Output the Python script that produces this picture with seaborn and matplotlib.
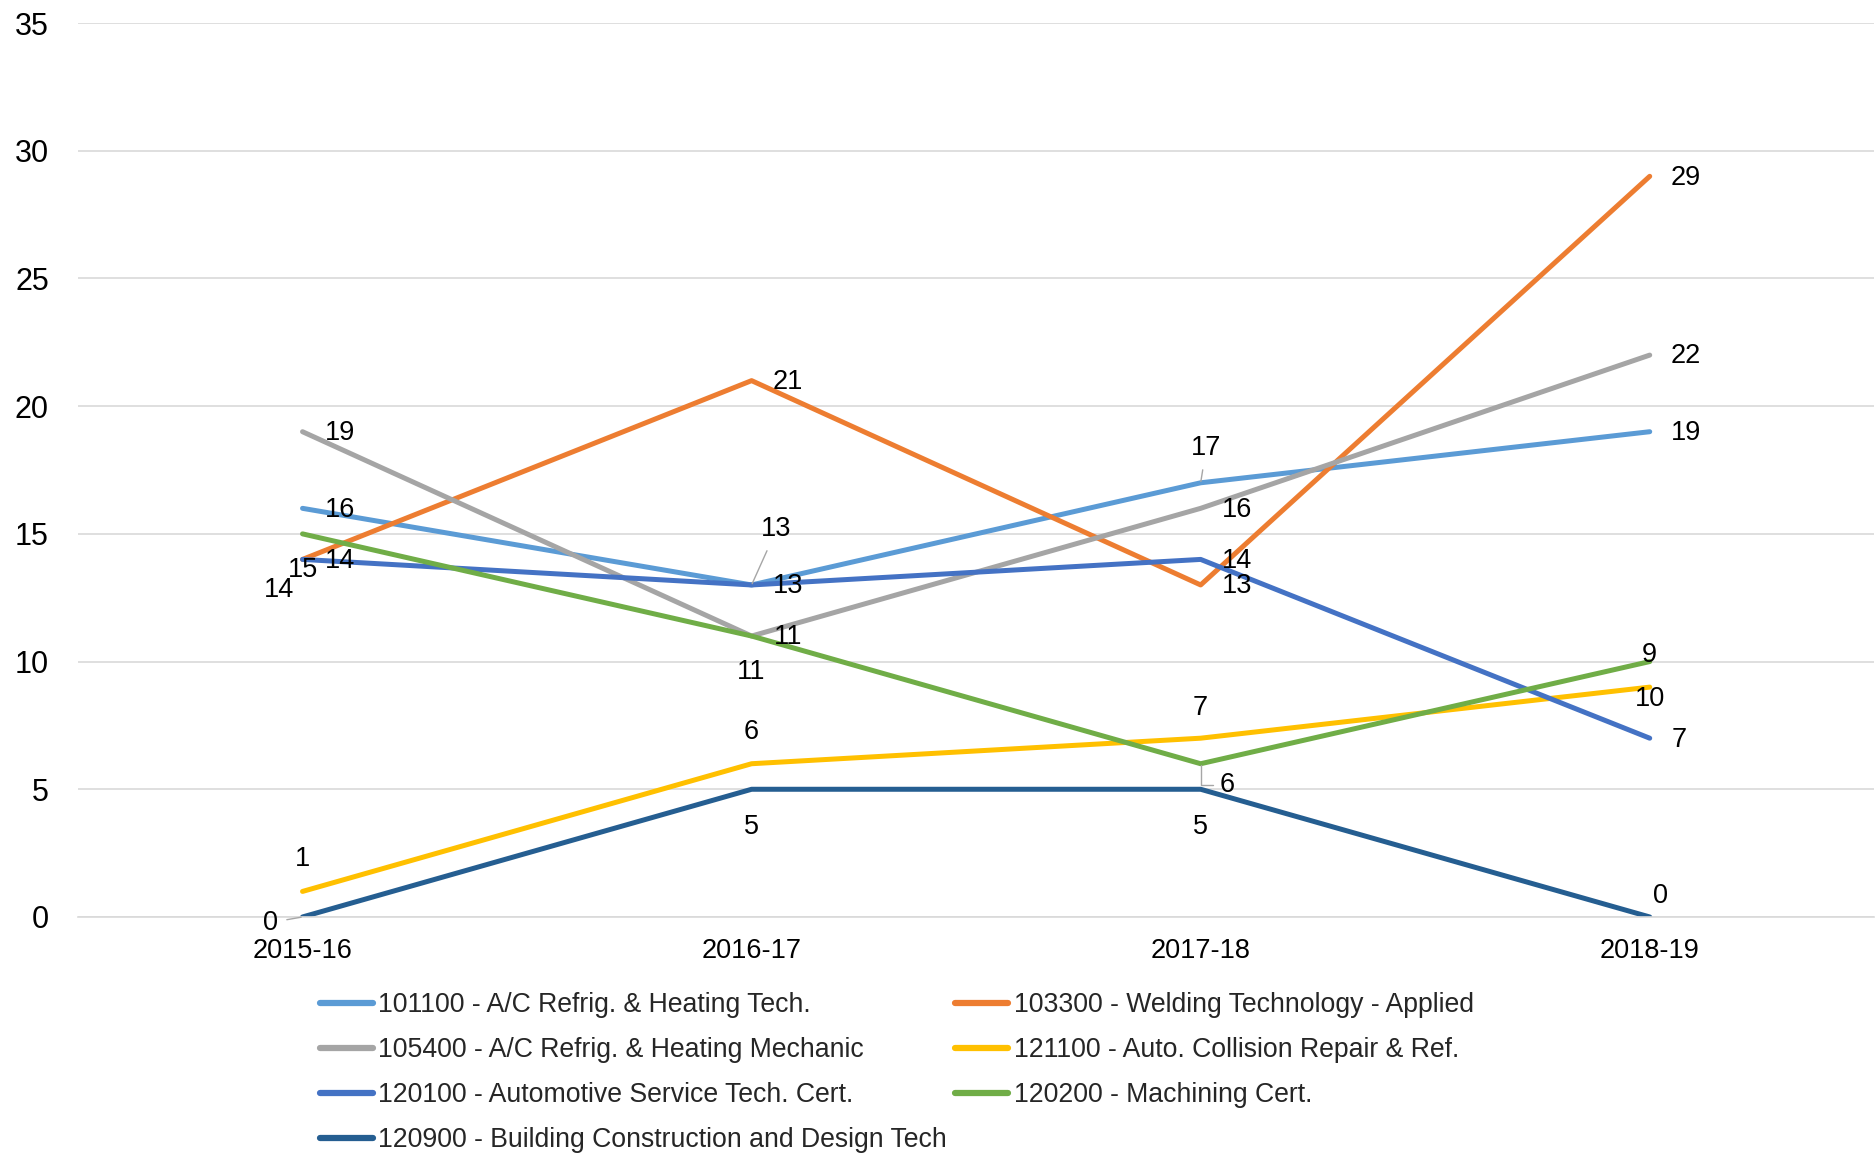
import matplotlib
matplotlib.use("Agg")
import matplotlib.pyplot as plt
import seaborn as sns
import pandas as pd

# Program completions per academic year
years = ["2015-16", "2016-17", "2017-18", "2018-19"]
programs = [
    "101100 - A/C Refrig. & Heating Tech.",
    "103300 - Welding Technology - Applied",
    "105400 - A/C Refrig. & Heating Mechanic",
    "121100 - Auto. Collision Repair & Ref.",
    "120100 - Automotive Service Tech. Cert.",
    "120200 - Machining Cert.",
    "120900 - Building Construction and Design Tech",
]
ac_tech = [16, 13, 17, 19]
welding = [14, 21, 13, 29]
ac_mechanic = [19, 11, 16, 22]
auto_collision = [1, 6, 7, 9]
auto_service = [14, 13, 14, 7]
machining = [15, 11, 6, 10]
building = [0, 5, 5, 0]
series_values = [ac_tech, welding, ac_mechanic, auto_collision,
                 auto_service, machining, building]
colors = ["#5B9BD5", "#ED7D31", "#A5A5A5", "#FFC000",
          "#4472C4", "#70AD47", "#255E91"]

# Label offsets (points) per series and year, plus leader-line style
label_offsets = [
    [(27, -1), (18, 40), (4, 25), (26, -1)],
    [(-17, -22), (26, -1), (26, -1), (26, -1)],
    [(27, -1), (26, -1), (26, -1), (26, -1)],
    [(0, 23), (0, 23), (0, 22), (0, 23)],
    [(27, -1), (26, -1), (26, -1), (21, -1)],
    [(0, -26), (0, -26), (19, -15), (0, -27)],
    [(-23, -4), (0, -27), (0, -27), (8, 15)],
]
leaders = {(0, 1): "straight", (0, 2): "straight", (5, 2): "elbow", (6, 0): "straight"}

sns.set_theme(style="white")
plt.rcParams["font.family"] = ["Liberation Sans", "DejaVu Sans"]

rows = []
for name, vals in zip(programs, series_values):
    for i, v in enumerate(vals):
        rows.append({"program": name, "x": i, "value": v})
df = pd.DataFrame(rows)

fig = plt.figure(figsize=(18.75, 11.54), dpi=100)
ax = fig.add_axes([0.0416, 0.2054, 0.958, 0.7746])

sns.lineplot(data=df, x="x", y="value", hue="program", hue_order=programs,
             palette=colors, sort=False, linewidth=3.6, ax=ax, legend=False,
             solid_capstyle="round", solid_joinstyle="round")

ax.set_xlim(-0.5, 3.5)
ax.set_ylim(0, 35)
ax.set_yticks(range(0, 36, 5))
ax.set_xticks(range(len(years)))
ax.set_xticklabels(years)
ax.set_xlabel("")
ax.set_ylabel("")
ax.grid(axis="y", color="#D9D9D9", linewidth=1.2)
ax.set_axisbelow(True)
for side in ["top", "right", "left"]:
    ax.spines[side].set_visible(False)
ax.spines["bottom"].set_color("#D9D9D9")
ax.spines["bottom"].set_linewidth(1.2)
ax.tick_params(axis="y", length=0, pad=21, labelsize=22, labelcolor="black")
ax.tick_params(axis="x", length=0, pad=15, labelsize=19.5, labelcolor="black")

# Data labels
for s, vals in enumerate(series_values):
    for i, v in enumerate(vals):
        dx, dy = label_offsets[s][i]
        kind = leaders.get((s, i))
        arrow = None
        if kind == "straight":
            arrow = dict(arrowstyle="-", color="#A6A6A6", lw=1.0, shrinkA=4, shrinkB=1)
        elif kind == "elbow":
            arrow = dict(arrowstyle="-", color="#A6A6A6", lw=1.0, shrinkA=2, shrinkB=1,
                         connectionstyle="angle,angleA=0,angleB=90,rad=0")
        ax.annotate(str(v), xy=(i, v), xytext=(dx, dy), textcoords="offset points",
                    ha="center", va="center", fontsize=19.5, color="black",
                    arrowprops=arrow)

# Legend laid out row by row across two columns
handles = [plt.Line2D([0], [0], color=c, lw=4.5, solid_capstyle="round") for c in colors]
order = [0, 2, 4, 6, 1, 3, 5]
fig.legend([handles[k] for k in order], [programs[k] for k in order],
           loc="upper left", bbox_to_anchor=(0.1705, 0.1405), ncol=2, frameon=False,
           fontsize=19.2, handlelength=2.0, handletextpad=0.2, columnspacing=0.3,
           labelspacing=0.72, borderpad=0, borderaxespad=0)

fig.savefig("out.png", dpi=100, facecolor="white")
